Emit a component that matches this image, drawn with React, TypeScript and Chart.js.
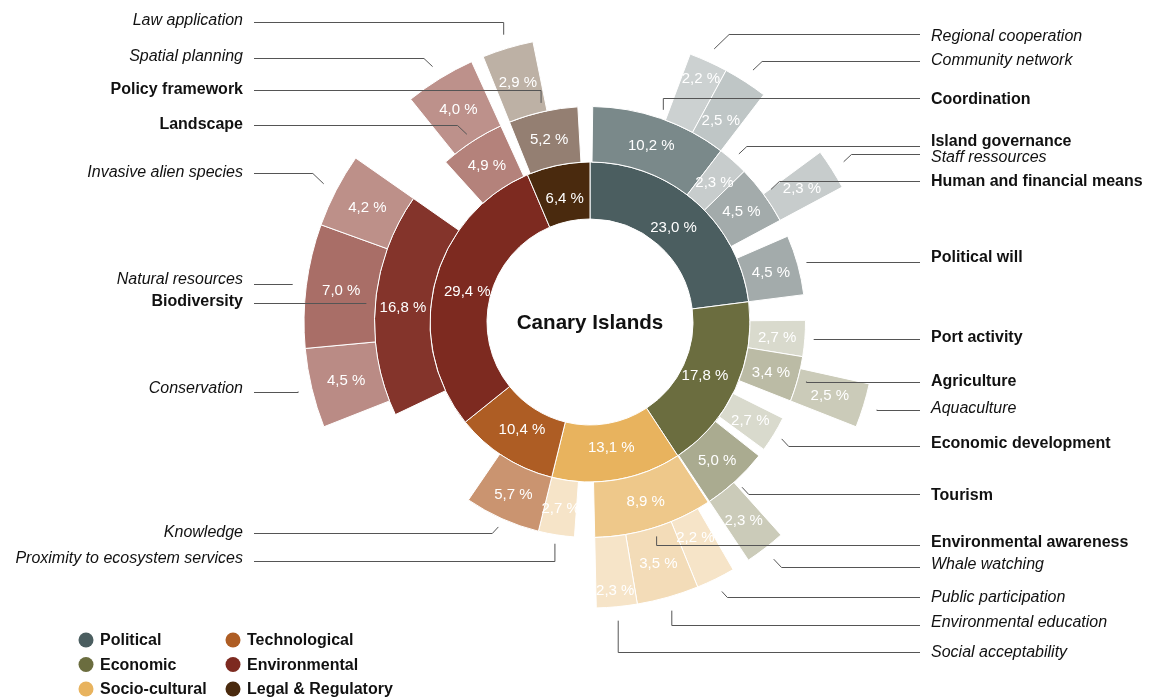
import React, { useEffect, useRef } from 'react';
import { Chart, registerables } from 'chart.js';

Chart.register(...registerables);

// ---------------- data ----------------
const categories = ['Political', 'Economic', 'Socio-cultural', 'Technological', 'Environmental', 'Legal & Regulatory'];
const categoryValues = [23.0, 17.8, 13.1, 10.4, 29.4, 6.4];

// second ring (null = unlabelled gap inside the parent sector)
const subThemes = [
  null, 'Coordination', 'Island governance', 'Human and financial means', null, 'Political will',
  null, 'Port activity', 'Agriculture', null, 'Economic development', null, 'Tourism', null,
  'Environmental awareness', null, 'Proximity to ecosystem services',
  'Knowledge', null,
  null, 'Biodiversity', null, 'Landscape', null,
  null, 'Policy framework', null,
];
const subThemeValues = [
  0.2, 10.2, 2.3, 4.5, 1.3, 4.5,
  1.9, 2.7, 3.4, 1.4, 2.7, 0.6, 5.0, 0.1,
  8.9, 1.5, 2.7,
  5.7, 4.7,
  3.7, 16.8, 3.6, 4.9, 0.4,
  0.3, 5.2, 0.9,
];

// outer ring
const detailThemes = [
  null, 'Regional cooperation', 'Community network', null, 'Staff ressources', null,
  null, 'Aquaculture', null, 'Whale watching', null,
  null, 'Public participation', 'Environmental education', 'Social acceptability', null,
  null,
  null, 'Conservation', 'Natural resources', 'Invasive alien species', null, 'Spatial planning', null,
  null, 'Law application', null,
];
const detailValues = [
  5.7, 2.2, 2.5, 4.5, 2.3, 5.8,
  5.5, 2.5, 7.4, 2.3, 0.1,
  0.9, 2.2, 3.5, 2.3, 4.2,
  10.4,
  4.8, 4.5, 7.0, 4.2, 4.5, 4.0, 0.4,
  0.3, 2.9, 3.2,
];

const centerTitle = 'Canary Islands';

// ---------------- styles ----------------
const colorOf: Record<string, string> = {
  'Political': '#4b5e60',
  'Economic': '#6b6d3f',
  'Socio-cultural': '#e8b35e',
  'Technological': '#ae5d24',
  'Environmental': '#7d2a20',
  'Legal & Regulatory': '#4a2a0e',
  'Coordination': '#7a898a',
  'Island governance': '#c7cccc',
  'Human and financial means': '#a3abab',
  'Political will': '#a3abab',
  'Regional cooperation': '#ccd1d1',
  'Community network': '#bfc6c6',
  'Staff ressources': '#c7cccc',
  'Port activity': '#d9dacd',
  'Agriculture': '#bbbba5',
  'Aquaculture': '#cbcbb9',
  'Economic development': '#d9dacd',
  'Tourism': '#aaab90',
  'Whale watching': '#cbcbb9',
  'Environmental awareness': '#eec88a',
  'Proximity to ecosystem services': '#f6e4c8',
  'Public participation': '#f6e4c8',
  'Environmental education': '#f3dcb8',
  'Social acceptability': '#f6e4c8',
  'Knowledge': '#ca9470',
  'Biodiversity': '#84342b',
  'Landscape': '#b4827b',
  'Invasive alien species': '#bd9089',
  'Natural resources': '#a96e67',
  'Conservation': '#ba8b85',
  'Spatial planning': '#bd918b',
  'Policy framework': '#947f72',
  'Law application': '#bdb1a5',
};

type Elbow = 'h' | 'd' | 'v';
const callouts: Record<string, { ty: number; ly?: number; elbow: Elbow }> = {
  'Regional cooperation': { ty: 35, ly: 34, elbow: 'd' },
  'Community network': { ty: 59, ly: 61, elbow: 'd' },
  'Coordination': { ty: 98, ly: 98, elbow: 'v' },
  'Island governance': { ty: 140, ly: 146, elbow: 'd' },
  'Staff ressources': { ty: 156, ly: 154, elbow: 'd' },
  'Human and financial means': { ty: 180, ly: 181, elbow: 'd' },
  'Political will': { ty: 256, elbow: 'h' },
  'Port activity': { ty: 336, elbow: 'h' },
  'Agriculture': { ty: 380, elbow: 'h' },
  'Aquaculture': { ty: 407, elbow: 'h' },
  'Economic development': { ty: 442, ly: 446, elbow: 'd' },
  'Tourism': { ty: 494, ly: 494, elbow: 'd' },
  'Environmental awareness': { ty: 541, ly: 545, elbow: 'v' },
  'Whale watching': { ty: 563, ly: 567, elbow: 'd' },
  'Public participation': { ty: 596, ly: 597, elbow: 'd' },
  'Environmental education': { ty: 621, ly: 625, elbow: 'v' },
  'Social acceptability': { ty: 651, ly: 652, elbow: 'v' },
  'Law application': { ty: 19, ly: 22, elbow: 'v' },
  'Spatial planning': { ty: 55, ly: 58, elbow: 'd' },
  'Policy framework': { ty: 88, ly: 90, elbow: 'v' },
  'Landscape': { ty: 123, ly: 125, elbow: 'd' },
  'Invasive alien species': { ty: 171, ly: 173, elbow: 'd' },
  'Natural resources': { ty: 278, elbow: 'h' },
  'Biodiversity': { ty: 300, elbow: 'h' },
  'Conservation': { ty: 387, elbow: 'h' },
  'Knowledge': { ty: 531, ly: 533, elbow: 'd' },
  'Proximity to ecosystem services': { ty: 557, ly: 561, elbow: 'v' },
};
const italicNames = new Set([
  'Regional cooperation', 'Community network', 'Staff ressources', 'Aquaculture', 'Whale watching',
  'Public participation', 'Environmental education', 'Social acceptability', 'Law application',
  'Spatial planning', 'Invasive alien species', 'Natural resources', 'Conservation', 'Knowledge',
  'Proximity to ecosystem services',
]);
const pctNudge: Record<string, number> = {
  'Regional cooperation': 17,
  'Community network': -10,
  'Public participation': -11,
  'Social acceptability': 18,
};

const FONT = '"Liberation Sans", Arial, Helvetica, sans-serif';
const TRANSPARENT = 'rgba(0,0,0,0)';
const TEXT_DY = 1.5;

const ringColors = (names: (string | null)[]) => names.map((n) => (n ? colorOf[n] : TRANSPARENT));
const ringBorders = (names: (string | null)[]) => names.map((n) => (n ? 1 : 0));
const fmt = (v: number) => v.toFixed(1).replace('.', ',') + ' %';

const overlayPlugin = {
  id: 'sunburstOverlay',
  afterDatasetsDraw(chart: any) {
    const ctx: CanvasRenderingContext2D = chart.ctx;
    const rings = [
      { index: 0, names: detailThemes, values: detailValues, lead: 14, base: 0 },
      { index: 1, names: subThemes, values: subThemeValues, lead: 9, base: 0 },
      { index: 2, names: categories, values: categoryValues, lead: 0, base: -5 },
    ];
    ctx.save();
    // leader lines + labels
    ctx.strokeStyle = '#555555';
    ctx.lineWidth = 1;
    for (const ring of rings) {
      const meta = chart.getDatasetMeta(ring.index);
      ring.names.forEach((name, i) => {
        if (!name || !callouts[name]) return;
        const el = meta.data[i];
        const p = el.getProps(['x', 'y', 'startAngle', 'endAngle', 'innerRadius', 'outerRadius'], true);
        const a = (p.startAngle + p.endAngle) / 2;
        const r0 = p.outerRadius + ring.lead;
        const sx = p.x + r0 * Math.cos(a);
        const sy = p.y + r0 * Math.sin(a);
        const side = sx >= p.x ? 1 : -1;
        const c = callouts[name];
        const endX = side > 0 ? 920 : 254;
        const ly = c.elbow === 'h' ? sy : (c.ly as number);
        let cx = sx;
        if (c.elbow === 'd') cx = sx + side * Math.abs(ly - sy);
        const yy = Math.round(ly) + 0.5;
        ctx.beginPath();
        ctx.moveTo(sx, sy);
        ctx.lineTo(cx, yy);
        ctx.lineTo(endX, yy);
        ctx.stroke();

        ctx.fillStyle = '#111';
        ctx.textBaseline = 'middle';
        ctx.font = (italicNames.has(name) ? 'italic 16px ' : 'bold 16px ') + FONT;
        ctx.textAlign = side > 0 ? 'left' : 'right';
        ctx.fillText(name, side > 0 ? 931 : 243, c.ty + TEXT_DY);
      });
    }
    // percentage labels
    ctx.fillStyle = '#ffffff';
    ctx.font = '15px ' + FONT;
    ctx.textAlign = 'center';
    ctx.textBaseline = 'middle';
    for (const ring of rings) {
      const meta = chart.getDatasetMeta(ring.index);
      ring.names.forEach((name, i) => {
        if (!name) return;
        const el = meta.data[i];
        const p = el.getProps(['x', 'y', 'startAngle', 'endAngle', 'innerRadius', 'outerRadius'], true);
        const a = (p.startAngle + p.endAngle) / 2;
        const r = (p.innerRadius + p.outerRadius) / 2 + ring.base + (pctNudge[name] || 0);
        ctx.fillText(fmt(ring.values[i]), p.x + r * Math.cos(a), p.y + r * Math.sin(a) + 1);
      });
    }
    // centre title
    const m0 = chart.getDatasetMeta(2).data[0];
    ctx.fillStyle = '#111';
    ctx.font = 'bold 20.6px ' + FONT;
    ctx.fillText(centerTitle, m0.x, m0.y + 1);

    // legend (3 rows x 2 columns)
    categories.forEach((cat, i) => {
      const col = Math.floor(i / 3);
      const row = i % 3;
      const cx = col === 0 ? 86 : 233;
      const cy = 640 + row * 24.5;
      ctx.fillStyle = colorOf[cat];
      ctx.beginPath();
      ctx.arc(cx, cy, 7.5, 0, Math.PI * 2);
      ctx.fill();
      ctx.fillStyle = '#111';
      ctx.font = 'bold 16px ' + FONT;
      ctx.textAlign = 'left';
      ctx.fillText(cat, cx + 14, cy + 1);
    });
    ctx.restore();
  },
};

export default function App() {
  const ref = useRef<HTMLCanvasElement | null>(null);
  useEffect(() => {
    if (!ref.current) return;
    const chart = new Chart(ref.current, {
      type: 'doughnut',
      data: {
        labels: detailThemes.map((n, i) => n || 'gap' + i),
        datasets: [
          {
            data: detailValues,
            backgroundColor: ringColors(detailThemes),
            borderColor: '#ffffff',
            borderWidth: ringBorders(detailThemes),
            weight: 70.5,
          } as any,
          {
            data: subThemeValues,
            backgroundColor: ringColors(subThemes),
            borderColor: '#ffffff',
            borderWidth: ringBorders(subThemes),
            weight: 55.5,
          } as any,
          {
            data: categoryValues,
            backgroundColor: ringColors(categories),
            borderColor: '#ffffff',
            borderWidth: 1,
            weight: 57,
          } as any,
        ],
      },
      options: {
        responsive: false,
        animation: false,
        events: [],
        radius: 286,
        cutout: '36.01%',
        layout: { padding: { left: 29, right: 0, top: 0, bottom: 54 } },
        plugins: { legend: { display: false }, tooltip: { enabled: false } },
      } as any,
      plugins: [overlayPlugin],
    });
    return () => chart.destroy();
  }, []);
  return (
    <div style={{ position: 'absolute', left: 0, top: 0, width: 1151, height: 698, background: '#fff' }}>
      <canvas ref={ref} width={1151} height={698} style={{ display: 'block' }} />
    </div>
  );
}
